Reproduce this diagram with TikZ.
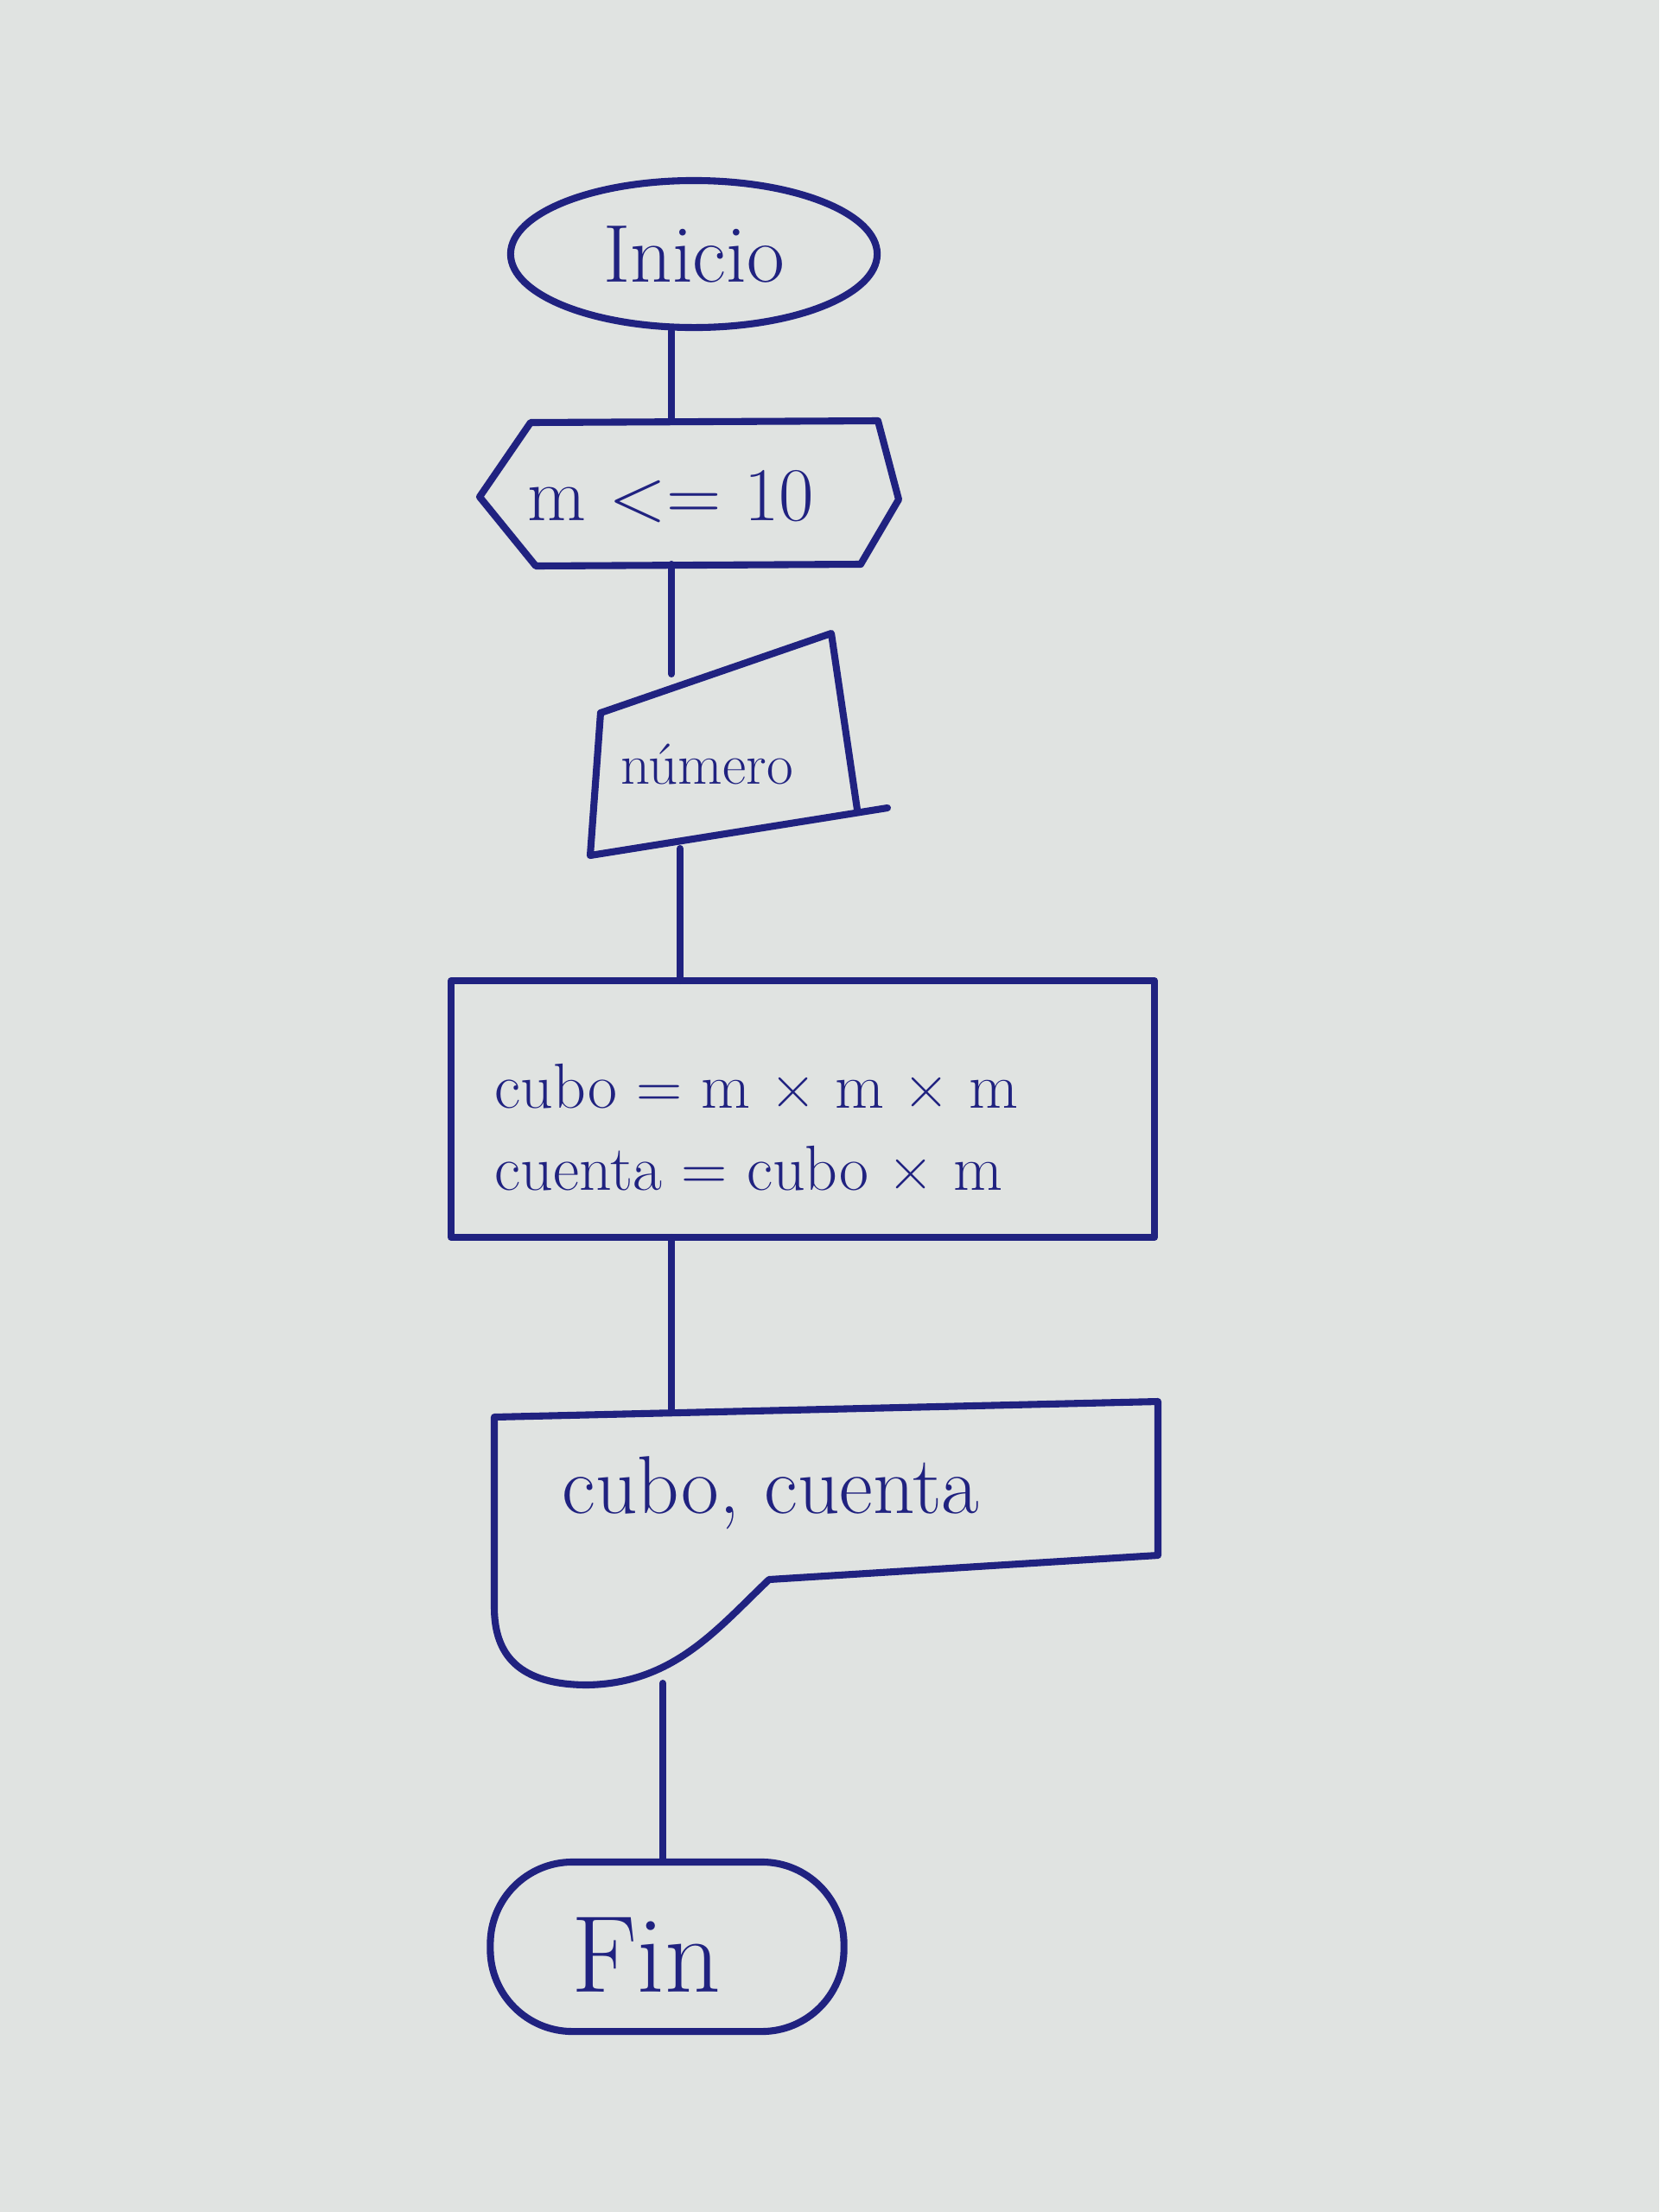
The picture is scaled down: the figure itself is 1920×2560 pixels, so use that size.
\documentclass[tikz,border=0pt]{standalone}
\usepackage{fontspec}
\usetikzlibrary{shapes.geometric}
\definecolor{paper}{RGB}{224,227,225}
\definecolor{ink}{RGB}{32,34,128}
\begin{document}
\begin{tikzpicture}[x=0.01cm,y=-0.01cm,
  pen/.style={draw=ink,line width=2.3pt,line join=round,line cap=round},
  lbl/.style={text=ink,inner sep=0pt}]
\fill[paper] (0,0) rectangle (1920,2560);
\useasboundingbox (0,0) rectangle (1920,2560);

% Inicio
\node[pen,ellipse,minimum width=4.24cm,minimum height=1.7cm,inner sep=0pt] (inicio) at (803,294) {};
\node[lbl,font=\fontsize{27}{32}\selectfont] (tinicio) at (803,294) {Inicio};

% condition hexagon
\coordinate (hextop) at (777,487);
\coordinate (hexbot) at (777,653);
\draw[pen] (614,489) -- (1016,487) -- (1040,578) -- (996,653) -- (620,655) -- (555,575) -- cycle;
\node[lbl,font=\fontsize{25}{30}\selectfont] (cond) at (776,575) {m <= 10};

% manual input
\coordinate (intop) at (777,780);
\coordinate (inbot) at (787,982);
\draw[pen] (695,825) -- (962,733) -- (992,937);
\draw[pen] (1027,935) -- (683,990) -- cycle (683,990) -- (695,825);
\node[lbl,font=\fontsize{19}{24}\selectfont] (num) at (818,885) {número};

% process
\coordinate (proctop) at (787,1135);
\coordinate (procbot) at (777,1432);
\draw[pen] (522,1135) rectangle (1336,1432);
\node[lbl,font=\fontsize{21}{27}\selectfont,align=left,anchor=west] (proc) at (572,1305) {cubo = m × m × m\\cuenta = cubo × m};

% output display
\coordinate (outtop) at (777,1632);
\coordinate (outbot) at (767,1948);
\draw[pen] (572,1640) -- (1340,1622) -- (1340,1800) -- (890,1828)
  .. controls (830,1885) and (780,1948) .. (680,1950)
  .. controls (600,1950) and (572,1915) .. (572,1860) -- cycle;
\node[lbl,font=\fontsize{27}{32}\selectfont] (out) at (892,1728) {cubo, cuenta};

% Fin
\node[pen,rounded corners=0.95cm,minimum width=4.09cm,minimum height=1.96cm,inner sep=0pt] (fin) at (772,2253) {};
\node[lbl,font=\fontsize{36}{40}\selectfont] (tfin) at (748,2262) {Fin};

% connectors
\draw[pen] (inicio.south -| hextop) -- (hextop);
\draw[pen] (hexbot) -- (intop);
\draw[pen] (inbot) -- (proctop);
\draw[pen] (procbot) -- (outtop);
\draw[pen] (outbot) -- (outbot |- fin.north);
\end{tikzpicture}
\end{document}
